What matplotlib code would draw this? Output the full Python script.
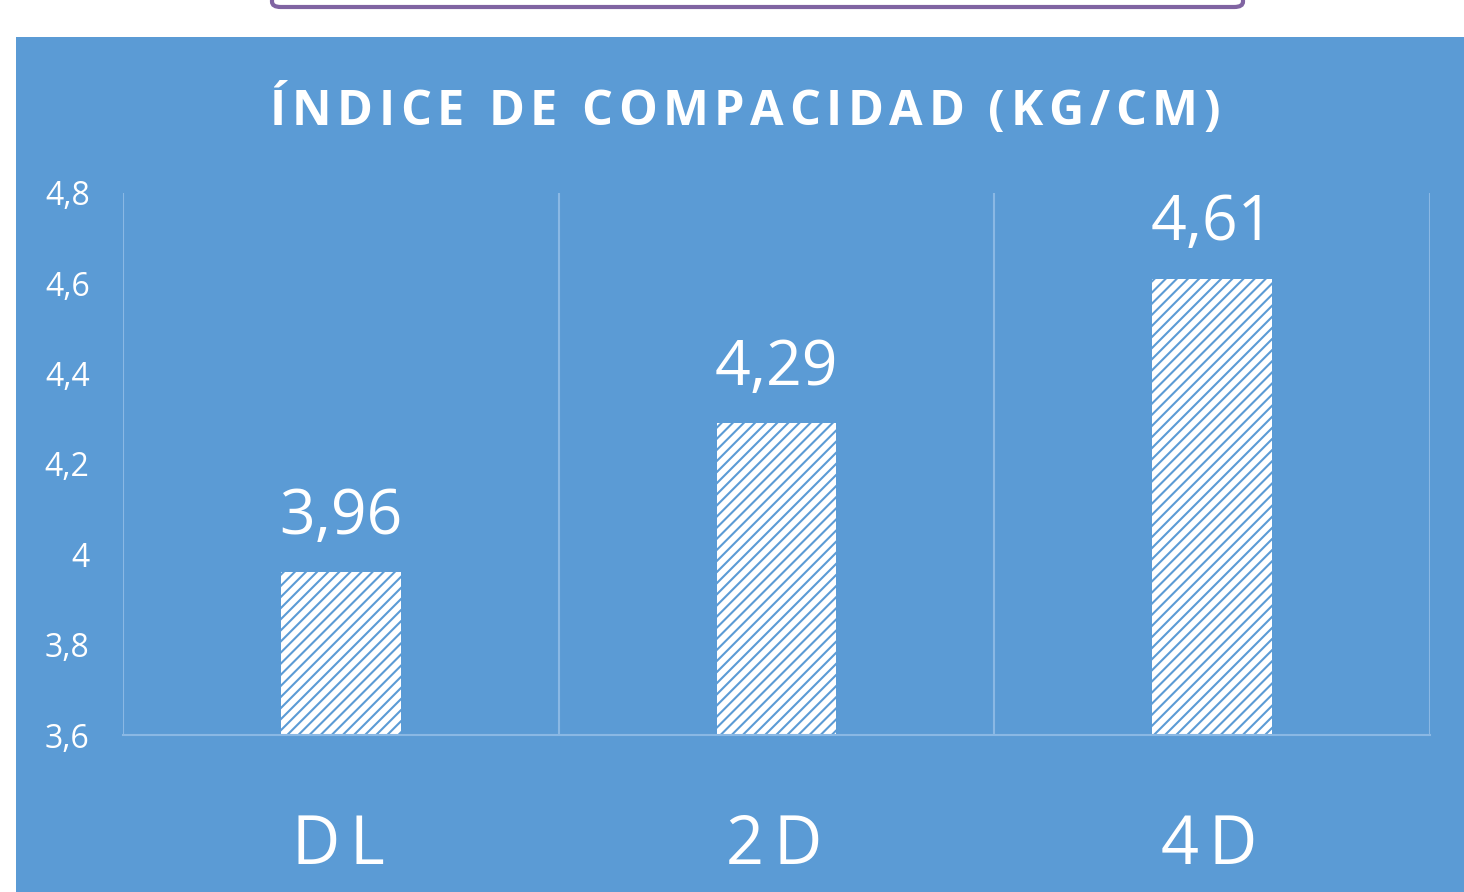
import matplotlib
matplotlib.use('Agg')
import matplotlib.pyplot as plt
from matplotlib.patches import FancyBboxPatch, Rectangle
from matplotlib.font_manager import FontProperties

categories = ['DL', '2D', '4D']
values = [3.96, 4.29, 4.61]
value_labels = ['3,96', '4,29', '4,61']
yticks = [3.6, 3.8, 4.0, 4.2, 4.4, 4.6, 4.8]
ytick_labels = ['3,6', '3,8', '4', '4,2', '4,4', '4,6', '4,8']
title = 'ÍNDICE DE COMPACIDAD (KG/CM)'

blue = '#5B9BD5'
grid = '#8AB8E4'
font = 'Open Sans'

plt.rcParams['font.family'] = [font, 'DejaVu Sans']
plt.rcParams['hatch.linewidth'] = 1.5

W, H = 1464, 892
fig = plt.figure(figsize=(W / 100, H / 100), dpi=100)
fig.patch.set_facecolor('white')
renderer = fig.canvas.get_renderer()


def ink_width(s, fp):
    return renderer.get_text_width_height_descent(s, fp, ismath=False)[0]


def spaced_text(xc, y, s, size, weight='normal', gap=None, width=None):
    """Draw s letter by letter (pixel coords, baseline at y) with extra tracking."""
    fp = FontProperties(family=font, size=size, weight=weight)
    ws = []
    for c in s:
        if c == ' ':
            ws.append(ink_width('H H', fp) - ink_width('HH', fp))
        else:
            ws.append(ink_width(c, fp))
    if gap is None:
        gap = (width - sum(ws)) / (len(s) - 1)
    total = sum(ws) + gap * (len(s) - 1)
    x = xc - total / 2
    for c, w in zip(s, ws):
        if c != ' ':
            fig.text(x / W, 1 - y / H, c, fontproperties=fp, color='white',
                     ha='left', va='baseline', zorder=6)
        x += w + gap


# blue chart panel
fig.patches.append(Rectangle((16 / W, 0), 1 - 16 / W, 1 - 37 / H,
                             transform=fig.transFigure, facecolor=blue,
                             edgecolor='none', zorder=0))
# purple box, only its bottom edge is visible at the top
fig.patches.append(FancyBboxPatch((272 / W, 1 - 7 / H), (1243 - 272) / W, 0.05,
                                  boxstyle='round,pad=0,rounding_size=0.006',
                                  transform=fig.transFigure, facecolor='white',
                                  edgecolor='#8064A2', linewidth=3, zorder=0))

ax = fig.add_axes([123 / W, 1 - 735 / H, (1430 - 123) / W, (735 - 193) / H])
ax.set_facecolor('none')
ax.set_zorder(5)

x = list(range(len(categories)))
ax.bar(x, [v - 3.6 for v in values], bottom=3.6, width=0.275,
       facecolor='white', edgecolor=blue, hatch='///', linewidth=0, zorder=2)

for xi, v, lab in zip(x, values, value_labels):
    ax.text(xi, v + 0.086, lab, ha='center', va='baseline', color='white',
            fontsize=45)

ax.set_xlim(-0.5, 2.5)
ax.set_ylim(3.6, 4.8)
ax.set_yticks(yticks)
ax.set_yticklabels(ytick_labels, color='white', fontsize=23)
ax.tick_params(axis='y', length=0, pad=24)
ax.set_xticks([])

for b in [-0.5, 0.5, 1.5, 2.5]:
    ax.axvline(b, color=grid, linewidth=1.5, zorder=1)
for s in ['top', 'left', 'right']:
    ax.spines[s].set_visible(False)
ax.spines['bottom'].set_color(grid)
ax.spines['bottom'].set_linewidth(1.5)

# category labels, drawn with letter spacing
for xi, cat in zip(x, categories):
    px = ax.transData.transform((xi, 0))[0]
    spaced_text(px - 3, 864, cat, 48, gap=10)

spaced_text(745, 125, title, 35, weight='bold', width=950)

fig.savefig('out.png', dpi=100)
